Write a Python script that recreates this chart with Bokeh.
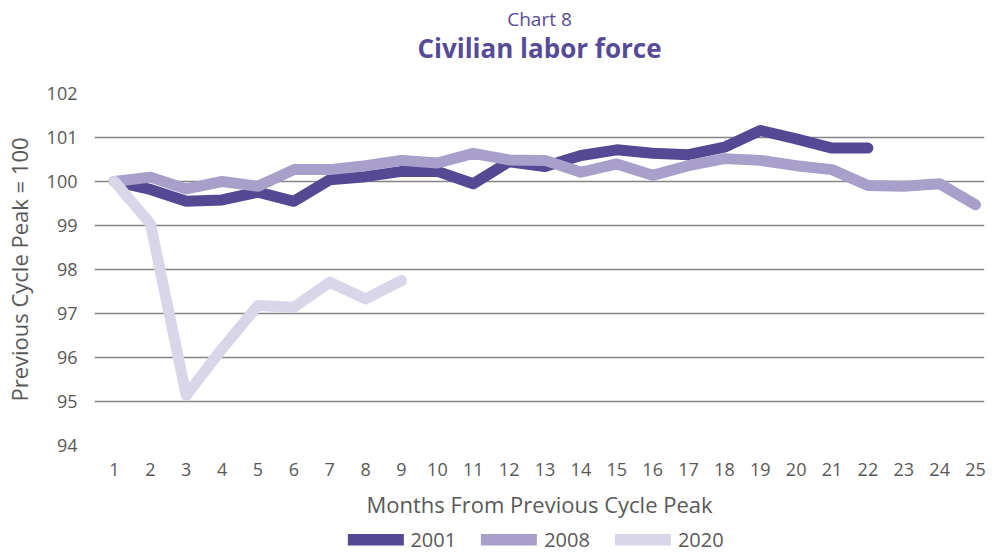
from bokeh.plotting import figure
from bokeh.layouts import column
from bokeh.models import (ColumnDataSource, Title, Legend, LegendItem, FixedTicker,
                          Range1d)
from bokeh.embed import file_html
from bokeh.resources import INLINE

months_2001 = list(range(1, 23))
vals_2001 = [100.0, 99.82, 99.55, 99.58, 99.76, 99.55, 100.04, 100.11, 100.23, 100.23,
             99.95, 100.45, 100.34, 100.59, 100.72, 100.64, 100.61, 100.78, 101.16,
             100.97, 100.76, 100.76]
months_2008 = list(range(1, 26))
vals_2008 = [100.0, 100.1, 99.83, 100.0, 99.89, 100.27, 100.27, 100.36, 100.48, 100.42,
             100.64, 100.49, 100.48, 100.21, 100.4, 100.14, 100.36, 100.52, 100.48,
             100.36, 100.27, 99.91, 99.89, 99.95, 99.47]
months_2020 = list(range(1, 10))
vals_2020 = [100.0, 99.04, 95.14, 96.2, 97.18, 97.14, 97.71, 97.33, 97.75]
series_names = ["2001", "2008", "2020"]
y_ticks = [94, 95, 96, 97, 98, 99, 100, 101, 102]
x_ticks = list(range(1, 26))

colors = ["#554994", "#a89fca", "#d9d6ea"]
FONT = "Open Sans"
GRAY = "#595959"
PURPLE = "#574b97"

p = figure(frame_width=890, frame_height=352,
           output_backend="svg", toolbar_location=None, title=None,
           x_range=Range1d(0.4425, 25.25), y_range=Range1d(94, 102),
           min_border_left=87, min_border_right=2, min_border_top=0,
           min_border_bottom=80, outline_line_color=None)

p.xgrid.grid_line_color = None
p.ygrid.grid_line_color = "#858585"
p.ygrid.grid_line_width = 1.6
p.yaxis.ticker = FixedTicker(ticks=y_ticks)
p.xaxis.ticker = FixedTicker(ticks=x_ticks)

for ax in (p.xaxis[0], p.yaxis[0]):
    ax.axis_line_color = None
    ax.major_tick_line_color = None
    ax.minor_tick_line_color = None
    ax.major_tick_out = 0
    ax.major_tick_in = 0
    ax.major_label_text_font = FONT
    ax.major_label_text_font_size = "18px"
    ax.major_label_text_color = GRAY
    ax.axis_label_text_font = FONT
    ax.axis_label_text_font_size = "22px"
    ax.axis_label_text_font_style = "normal"
    ax.axis_label_text_color = GRAY

p.yaxis.axis_label = "Previous Cycle Peak = 100"
p.yaxis.major_label_standoff = 17
p.yaxis.axis_label_standoff = 10
p.xaxis.axis_label = "Months From Previous Cycle Peak"
p.xaxis.major_label_standoff = 17
p.xaxis.axis_label_standoff = 10

series = [(months_2001, vals_2001, colors[0]),
          (months_2008, vals_2008, colors[1]),
          (months_2020, vals_2020, colors[2])]
sources = []
for xs, ys, c in series:
    src = ColumnDataSource(data=dict(x=xs, y=ys))
    sources.append(src)
    p.line("x", "y", source=src, line_color=c, line_width=11,
           line_cap="round", line_join="round")

# titles stack outward from the frame: spacer, main title, chart number
p.add_layout(Title(text=" ", text_font_size="1px", standoff=31), "above")
p.add_layout(Title(text="Civilian labor force", text_font=FONT, text_font_size="26px",
                   text_font_style="bold", text_color=PURPLE, align="center",
                   standoff=-13), "above")
p.add_layout(Title(text="Chart 8", text_font=FONT, text_font_size="19px",
                   text_font_style="normal", text_color=PURPLE, align="center",
                   standoff=6), "above")

# legend strip below the chart (its lines lie outside this strip's ranges)
leg = figure(width=979, height=28, output_backend="svg", toolbar_location=None,
             x_axis_location=None, y_axis_location=None,
             x_range=Range1d(-2, -1), y_range=Range1d(-2, -1),
             min_border_left=22, min_border_right=0, min_border_top=0,
             min_border_bottom=0, outline_line_color=None)
leg.grid.visible = False
leg_renderers = []
for src, (xs, ys, c) in zip(sources, series):
    leg_renderers.append(leg.line("x", "y", source=src, line_color=c, line_width=12,
                                  line_cap="round", line_join="round"))

legend = Legend(items=[LegendItem(label=n, renderers=[r]) for n, r in zip(series_names, leg_renderers)],
                orientation="horizontal", location="center",
                glyph_width=56, glyph_height=12, label_standoff=7, spacing=25,
                padding=0, margin=0, border_line_color=None, background_fill_alpha=0,
                label_text_font=FONT, label_text_font_size="20px", label_text_color=GRAY)
leg.add_layout(legend, "center")

layout = column(p, leg, spacing=0)
open("out.html", "w").write(file_html(layout, INLINE))
